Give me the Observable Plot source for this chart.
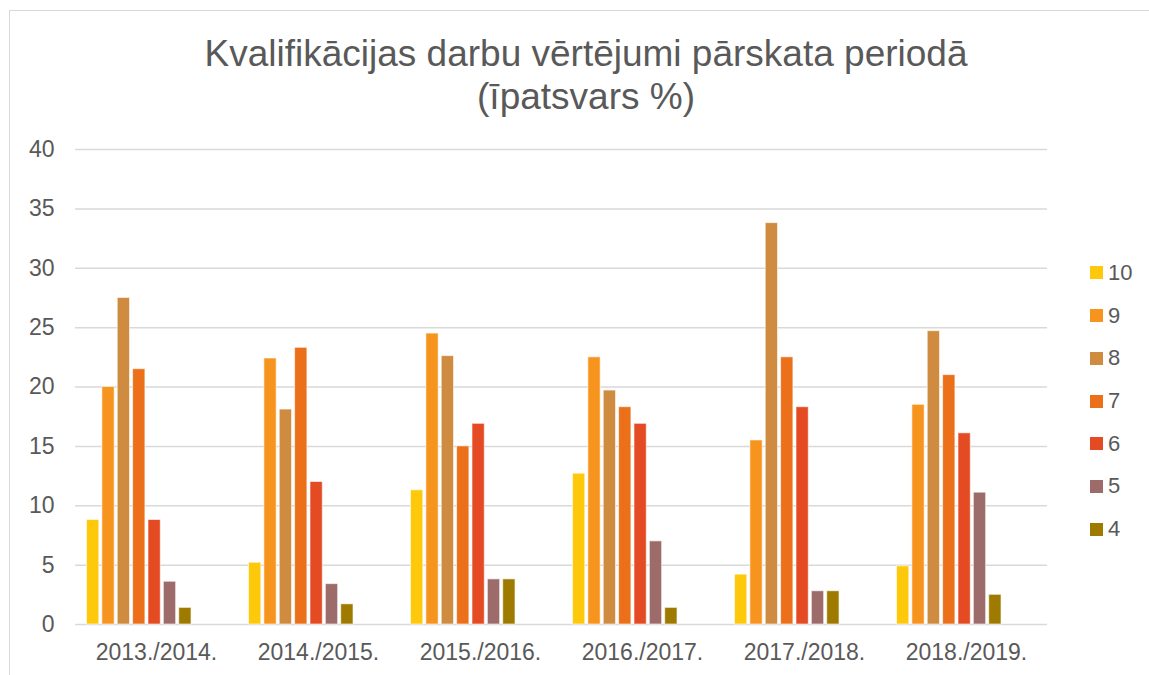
<!DOCTYPE html>
<html>
<head>
<meta charset="utf-8">
<script src="https://cdn.jsdelivr.net/npm/d3@7"></script>
<script src="https://cdn.jsdelivr.net/npm/@observablehq/plot@0.6"></script>
<style>
  html, body { margin: 0; padding: 0; background: #fff; overflow: hidden; }
  #wrap { position: relative; width: 1149px; height: 675px; font-family: "Liberation Sans", Arial, sans-serif; color: #595959; }
  #frame { position: absolute; left: 9px; top: 10px; width: 1200px; height: 700px; border: 1px solid #d9d9d9; box-sizing: border-box; }
  #title { position: absolute; left: 0; top: 32px; width: 1172px; text-align: center; font-size: 37px; line-height: 43px; color: #595959; }
  #chart { position: absolute; left: 0; top: 130px; }
  #legend { position: absolute; left: 1090px; top: 251.6px; }
  .item { display: flex; align-items: center; height: 42.7px; font-size: 22px; color: #595959; }
  .sw { width: 13px; height: 13px; margin-right: 5px; }
</style>
</head>
<body>
<div id="wrap">
  <div id="frame"></div>
  <div id="title">Kvalifikācijas darbu vērtējumi pārskata periodā<br>(īpatsvars %)</div>
  <div id="chart"></div>
  <div id="legend"></div>
</div>
<script>
const years = ["2013./2014.", "2014./2015.", "2015./2016.", "2016./2017.", "2017./2018.", "2018./2019."];
const grades = ["10", "9", "8", "7", "6", "5", "4"];
const grade10 = [8.8, 5.2, 11.3, 12.7, 4.2, 4.9];
const grade9  = [20.0, 22.4, 24.5, 22.5, 15.5, 18.5];
const grade8  = [27.5, 18.1, 22.6, 19.7, 33.8, 24.7];
const grade7  = [21.5, 23.3, 15.0, 18.3, 22.5, 21.0];
const grade6  = [8.8, 12.0, 16.9, 16.9, 18.3, 16.1];
const grade5  = [3.6, 3.4, 3.8, 7.0, 2.8, 11.1];
const grade4  = [1.4, 1.7, 3.8, 1.4, 2.8, 2.5];
const colors = ["#FFC90B", "#F7941E", "#CF8B40", "#EB7019", "#E54B23", "#9E6B6B", "#9E7B00"];
const yTicks = [0, 5, 10, 15, 20, 25, 30, 35, 40];

const seriesValues = [grade10, grade9, grade8, grade7, grade6, grade5, grade4];
const data = years.flatMap((yr, i) => grades.map((g, j) => ({year: yr, grade: g, value: seriesValues[j][i]})));

const chart = Plot.plot({
  width: 1149,
  height: 545,
  marginTop: 19,
  marginBottom: 51,
  marginLeft: 74,
  marginRight: 101,
  style: {fontFamily: "'Liberation Sans', Arial, sans-serif", fontSize: "23px", color: "#595959", background: "transparent", overflow: "visible"},
  fx: {domain: years, padding: 0, axis: "bottom", label: null, tickSize: 0, tickPadding: 19},
  x: {domain: grades, axis: null, paddingInner: 0.2, paddingOuter: 1.87, align: 0.2, round: false},
  y: {domain: [0, 40], ticks: yTicks, label: null, tickSize: 0, tickPadding: 21},
  color: {domain: grades, range: colors},
  marks: [
    Plot.ruleY(yTicks, {stroke: "#d9d9d9", strokeWidth: 1.5}),
    Plot.barY(data, {fx: "year", x: "grade", y: "value", fill: "grade", stroke: "white", strokeOpacity: 0.6, strokeWidth: 1})
  ]
});
document.getElementById("chart").appendChild(chart);

const legend = document.getElementById("legend");
grades.forEach((g, i) => {
  const item = document.createElement("div");
  item.className = "item";
  const sw = document.createElement("div");
  sw.className = "sw";
  sw.style.background = colors[i];
  const t = document.createElement("span");
  t.textContent = g;
  item.appendChild(sw);
  item.appendChild(t);
  legend.appendChild(item);
});
</script>
</body>
</html>
